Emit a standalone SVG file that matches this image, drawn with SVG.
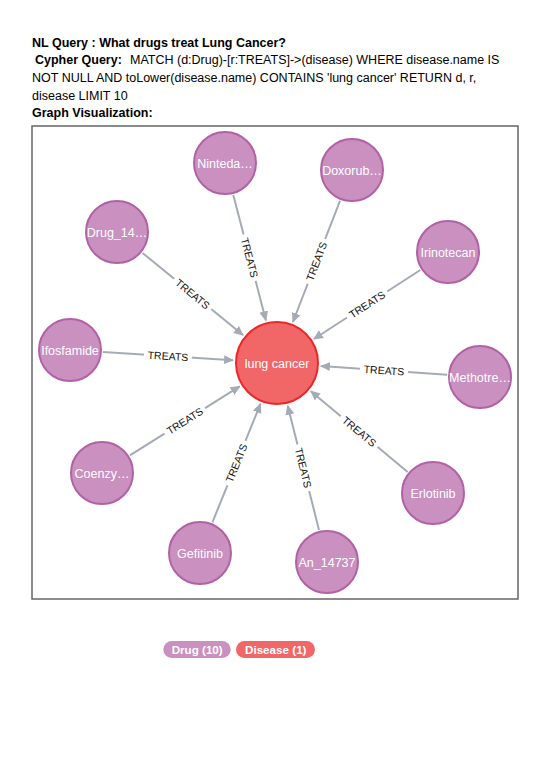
<svg xmlns="http://www.w3.org/2000/svg" width="546" height="772" viewBox="0 0 546 772">
<style>
.hdr{font-family:"Liberation Sans",Arial,sans-serif;font-size:12.5px;fill:#000}
.b{font-weight:bold}
.drug circle{fill:#C990C0;stroke:#B261A5;stroke-width:2}
.dis circle{fill:#F16667;stroke:#EB2728;stroke-width:2}
.nl{font-family:"Liberation Sans",Arial,sans-serif;font-size:12.5px;fill:#fff;text-anchor:middle}
.edge{stroke:#A5ABB6;stroke-width:2;fill:none;marker-end:url(#arr)}
.el rect{fill:#fff}
.el text{font-family:"Liberation Sans",Arial,sans-serif;font-size:10.5px;fill:#111;text-anchor:middle}
.lg text{font-family:"Liberation Sans",Arial,sans-serif;font-size:10.5px;font-weight:bold;fill:#fff}
</style>
<defs>
<marker id="arr" markerUnits="userSpaceOnUse" markerWidth="10" markerHeight="10" viewBox="0 0 10 10" refX="9" refY="5" orient="auto">
<path d="M0,0.5 L10,5 L0,9.5 Z" fill="#A5ABB6"/>
</marker>
</defs>
<rect width="546" height="772" fill="#fff"/>
<g id="header">
<text class="hdr b" x="32" y="46.5">NL Query : What drugs treat Lung Cancer?</text>
<text class="hdr" x="35" y="64"><tspan class="b">Cypher Query:</tspan><tspan x="130">MATCH (d:Drug)-[r:TREATS]-&gt;(disease) WHERE disease.name IS</tspan></text>
<text class="hdr" x="32" y="82">NOT NULL AND toLower(disease.name) CONTAINS 'lung cancer' RETURN d, r,</text>
<text class="hdr" x="32" y="99.5">disease LIMIT 10</text>
<text class="hdr b" x="32" y="117">Graph Visualization:</text>
</g>
<rect id="frame" x="32" y="126" width="486" height="473" fill="#fff" stroke="#666" stroke-width="1.5"/>
<g id="connectors">
<line class="edge" x1="233.3" y1="194.9" x2="265.9" y2="320.4"/>
<line class="edge" x1="142.5" y1="252.9" x2="243.0" y2="335.1"/>
<line class="edge" x1="102.9" y1="352.1" x2="233.1" y2="360.2"/>
<line class="edge" x1="340.0" y1="200.8" x2="292.9" y2="322.0"/>
<line class="edge" x1="420.3" y1="270.0" x2="313.9" y2="339.0"/>
<line class="edge" x1="447.1" y1="374.7" x2="320.9" y2="366.0"/>
<line class="edge" x1="407.7" y1="471.9" x2="310.8" y2="391.2"/>
<line class="edge" x1="319.0" y1="530.0" x2="287.7" y2="405.7"/>
<line class="edge" x1="212.4" y1="522.4" x2="260.5" y2="403.8"/>
<line class="edge" x1="129.9" y1="455.4" x2="239.7" y2="386.4"/>
<g class="el" transform="translate(249.6,257.7) rotate(75.4)"><rect x="-24" y="-6" width="48" height="12"/><text y="3.8">TREATS</text></g>
<g class="el" transform="translate(192.7,294.0) rotate(39.3)"><rect x="-24" y="-6" width="48" height="12"/><text y="3.8">TREATS</text></g>
<g class="el" transform="translate(168,356.1) rotate(3.6)"><rect x="-24" y="-6" width="48" height="12"/><text y="3.8">TREATS</text></g>
<g class="el" transform="translate(316.5,261.4) rotate(-68.8)"><rect x="-24" y="-6" width="48" height="12"/><text y="3.8">TREATS</text></g>
<g class="el" transform="translate(367.1,304.5) rotate(-33)"><rect x="-24" y="-6" width="48" height="12"/><text y="3.8">TREATS</text></g>
<g class="el" transform="translate(384,370.4) rotate(3.9)"><rect x="-24" y="-6" width="48" height="12"/><text y="3.8">TREATS</text></g>
<g class="el" transform="translate(359.2,431.5) rotate(39.8)"><rect x="-24" y="-6" width="48" height="12"/><text y="3.8">TREATS</text></g>
<g class="el" transform="translate(303.3,467.8) rotate(76)"><rect x="-24" y="-6" width="48" height="12"/><text y="3.8">TREATS</text></g>
<g class="el" transform="translate(236.4,463.1) rotate(-67.9)"><rect x="-24" y="-6" width="48" height="12"/><text y="3.8">TREATS</text></g>
<g class="el" transform="translate(184.8,420.9) rotate(-32.2)"><rect x="-24" y="-6" width="48" height="12"/><text y="3.8">TREATS</text></g>
</g>
<g id="n-lungcancer" class="dis"><circle cx="277" cy="363" r="41"/><text class="nl" x="277" y="367.5">lung cancer</text></g>
<g id="n-ninteda" class="drug"><circle cx="225" cy="163" r="31"/><text class="nl" x="225" y="167.5">Ninteda…</text></g>
<g id="n-drug14" class="drug"><circle cx="117" cy="232" r="31"/><text class="nl" x="117" y="236.5">Drug_14…</text></g>
<g id="n-ifosfamide" class="drug"><circle cx="70" cy="350" r="31"/><text class="nl" x="70" y="354.5">Ifosfamide</text></g>
<g id="n-doxorub" class="drug"><circle cx="352" cy="170" r="31"/><text class="nl" x="352" y="174.5">Doxorub…</text></g>
<g id="n-irinotecan" class="drug"><circle cx="448" cy="252" r="31"/><text class="nl" x="448" y="256.5">Irinotecan</text></g>
<g id="n-methotre" class="drug"><circle cx="480" cy="377" r="31"/><text class="nl" x="480" y="381.5">Methotre…</text></g>
<g id="n-erlotinib" class="drug"><circle cx="433" cy="493" r="31"/><text class="nl" x="433" y="497.5">Erlotinib</text></g>
<g id="n-an14737" class="drug"><circle cx="327" cy="562" r="31"/><text class="nl" x="327" y="566.5">An_14737</text></g>
<g id="n-gefitinib" class="drug"><circle cx="200" cy="553" r="31"/><text class="nl" x="200" y="557.5">Gefitinib</text></g>
<g id="n-coenzy" class="drug"><circle cx="102" cy="473" r="31"/><text class="nl" x="102" y="477.5">Coenzy…</text></g>
<g id="legend" class="lg">
<rect x="163.3" y="641" width="67.4" height="17" rx="8.5" fill="#C990C0"/>
<text x="171.7" y="653.5" textLength="51" lengthAdjust="spacingAndGlyphs">Drug (10)</text>
<rect x="236" y="641" width="79" height="17" rx="8.5" fill="#F16667"/>
<text x="245" y="653.5" textLength="61.5" lengthAdjust="spacingAndGlyphs">Disease (1)</text>
</g>
</svg>
